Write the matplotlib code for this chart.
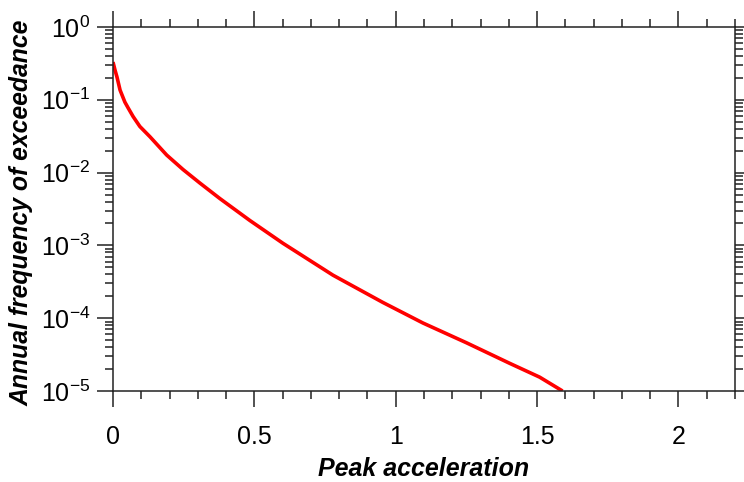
import numpy as np
import matplotlib
matplotlib.use("Agg")
import matplotlib.pyplot as plt
from matplotlib.ticker import MultipleLocator, LogLocator, FixedLocator

plt.rcParams['font.family'] = ['Liberation Sans', 'DejaVu Sans']
plt.rcParams['mathtext.fontset'] = 'custom'
plt.rcParams['mathtext.rm'] = 'Liberation Sans'
plt.rcParams['mathtext.it'] = 'Liberation Sans:italic'

# hazard curve
pga = [0.0, 0.007, 0.014, 0.025, 0.042, 0.053, 0.071, 0.095, 0.131, 0.19, 0.248,
       0.307, 0.378, 0.484, 0.601, 0.778, 0.954, 1.096, 1.25, 1.403, 1.509, 1.59]
freq = [0.33, 0.257, 0.206, 0.136, 0.093, 0.078, 0.059, 0.043, 0.031, 0.0174, 0.011,
        0.0072, 0.0044, 0.0022, 0.00107, 0.00039, 1.65e-4, 8.6e-5, 4.6e-5, 2.4e-5,
        1.55e-5, 1e-5]

xticks = [0, 0.5, 1, 1.5, 2]
yticks = [1e-5, 1e-4, 1e-3, 1e-2, 1e-1, 1e0]
ytick_labels = ['10$^{-5}$', '10$^{-4}$', '10$^{-3}$', '10$^{-2}$', '10$^{-1}$', '10$^{0}$']

fig = plt.figure(figsize=(7.44, 4.82), dpi=100)
ax = fig.add_axes([113/744, 1 - 391/482, (735 - 113)/744, (391 - 27)/482])

ax.plot(pga, freq, color='red', lw=2.6, solid_capstyle='butt', solid_joinstyle='round')

ax.set_yscale('log')
ax.set_xlim(0, 2.2)
ax.set_ylim(1e-5, 1)

ax.xaxis.set_major_locator(FixedLocator(xticks))
ax.xaxis.set_minor_locator(MultipleLocator(0.1))
ax.set_xticklabels(['0', '0.5', '1', '1.5', '2'])
ax.yaxis.set_major_locator(FixedLocator(yticks))
ax.yaxis.set_minor_locator(LogLocator(base=10, subs=np.arange(2, 10), numticks=20))
ax.set_yticklabels(ytick_labels)

for s in ax.spines.values():
    s.set_linewidth(1.1)
    s.set_color('#222222')

ax.tick_params(which='both', direction='out', top=True, right=True, color='#222222', width=1.1)
ax.tick_params(which='major', length=11.5)
ax.tick_params(which='minor', length=6)
ax.tick_params(axis='x', which='major', labelsize=18, pad=13)
ax.tick_params(axis='y', which='major', labelsize=18, pad=5)
ax.tick_params(which='minor', labelleft=False, labelbottom=False)

ax.set_xlabel('Peak acceleration', fontsize=18, fontweight='bold', style='italic', labelpad=6)
ax.set_ylabel('Annual frequency of exceedance', fontsize=17.8, fontweight='bold', style='italic')
ax.yaxis.set_label_coords(-0.127, 0.49)

fig.savefig('out.png', dpi=100)
